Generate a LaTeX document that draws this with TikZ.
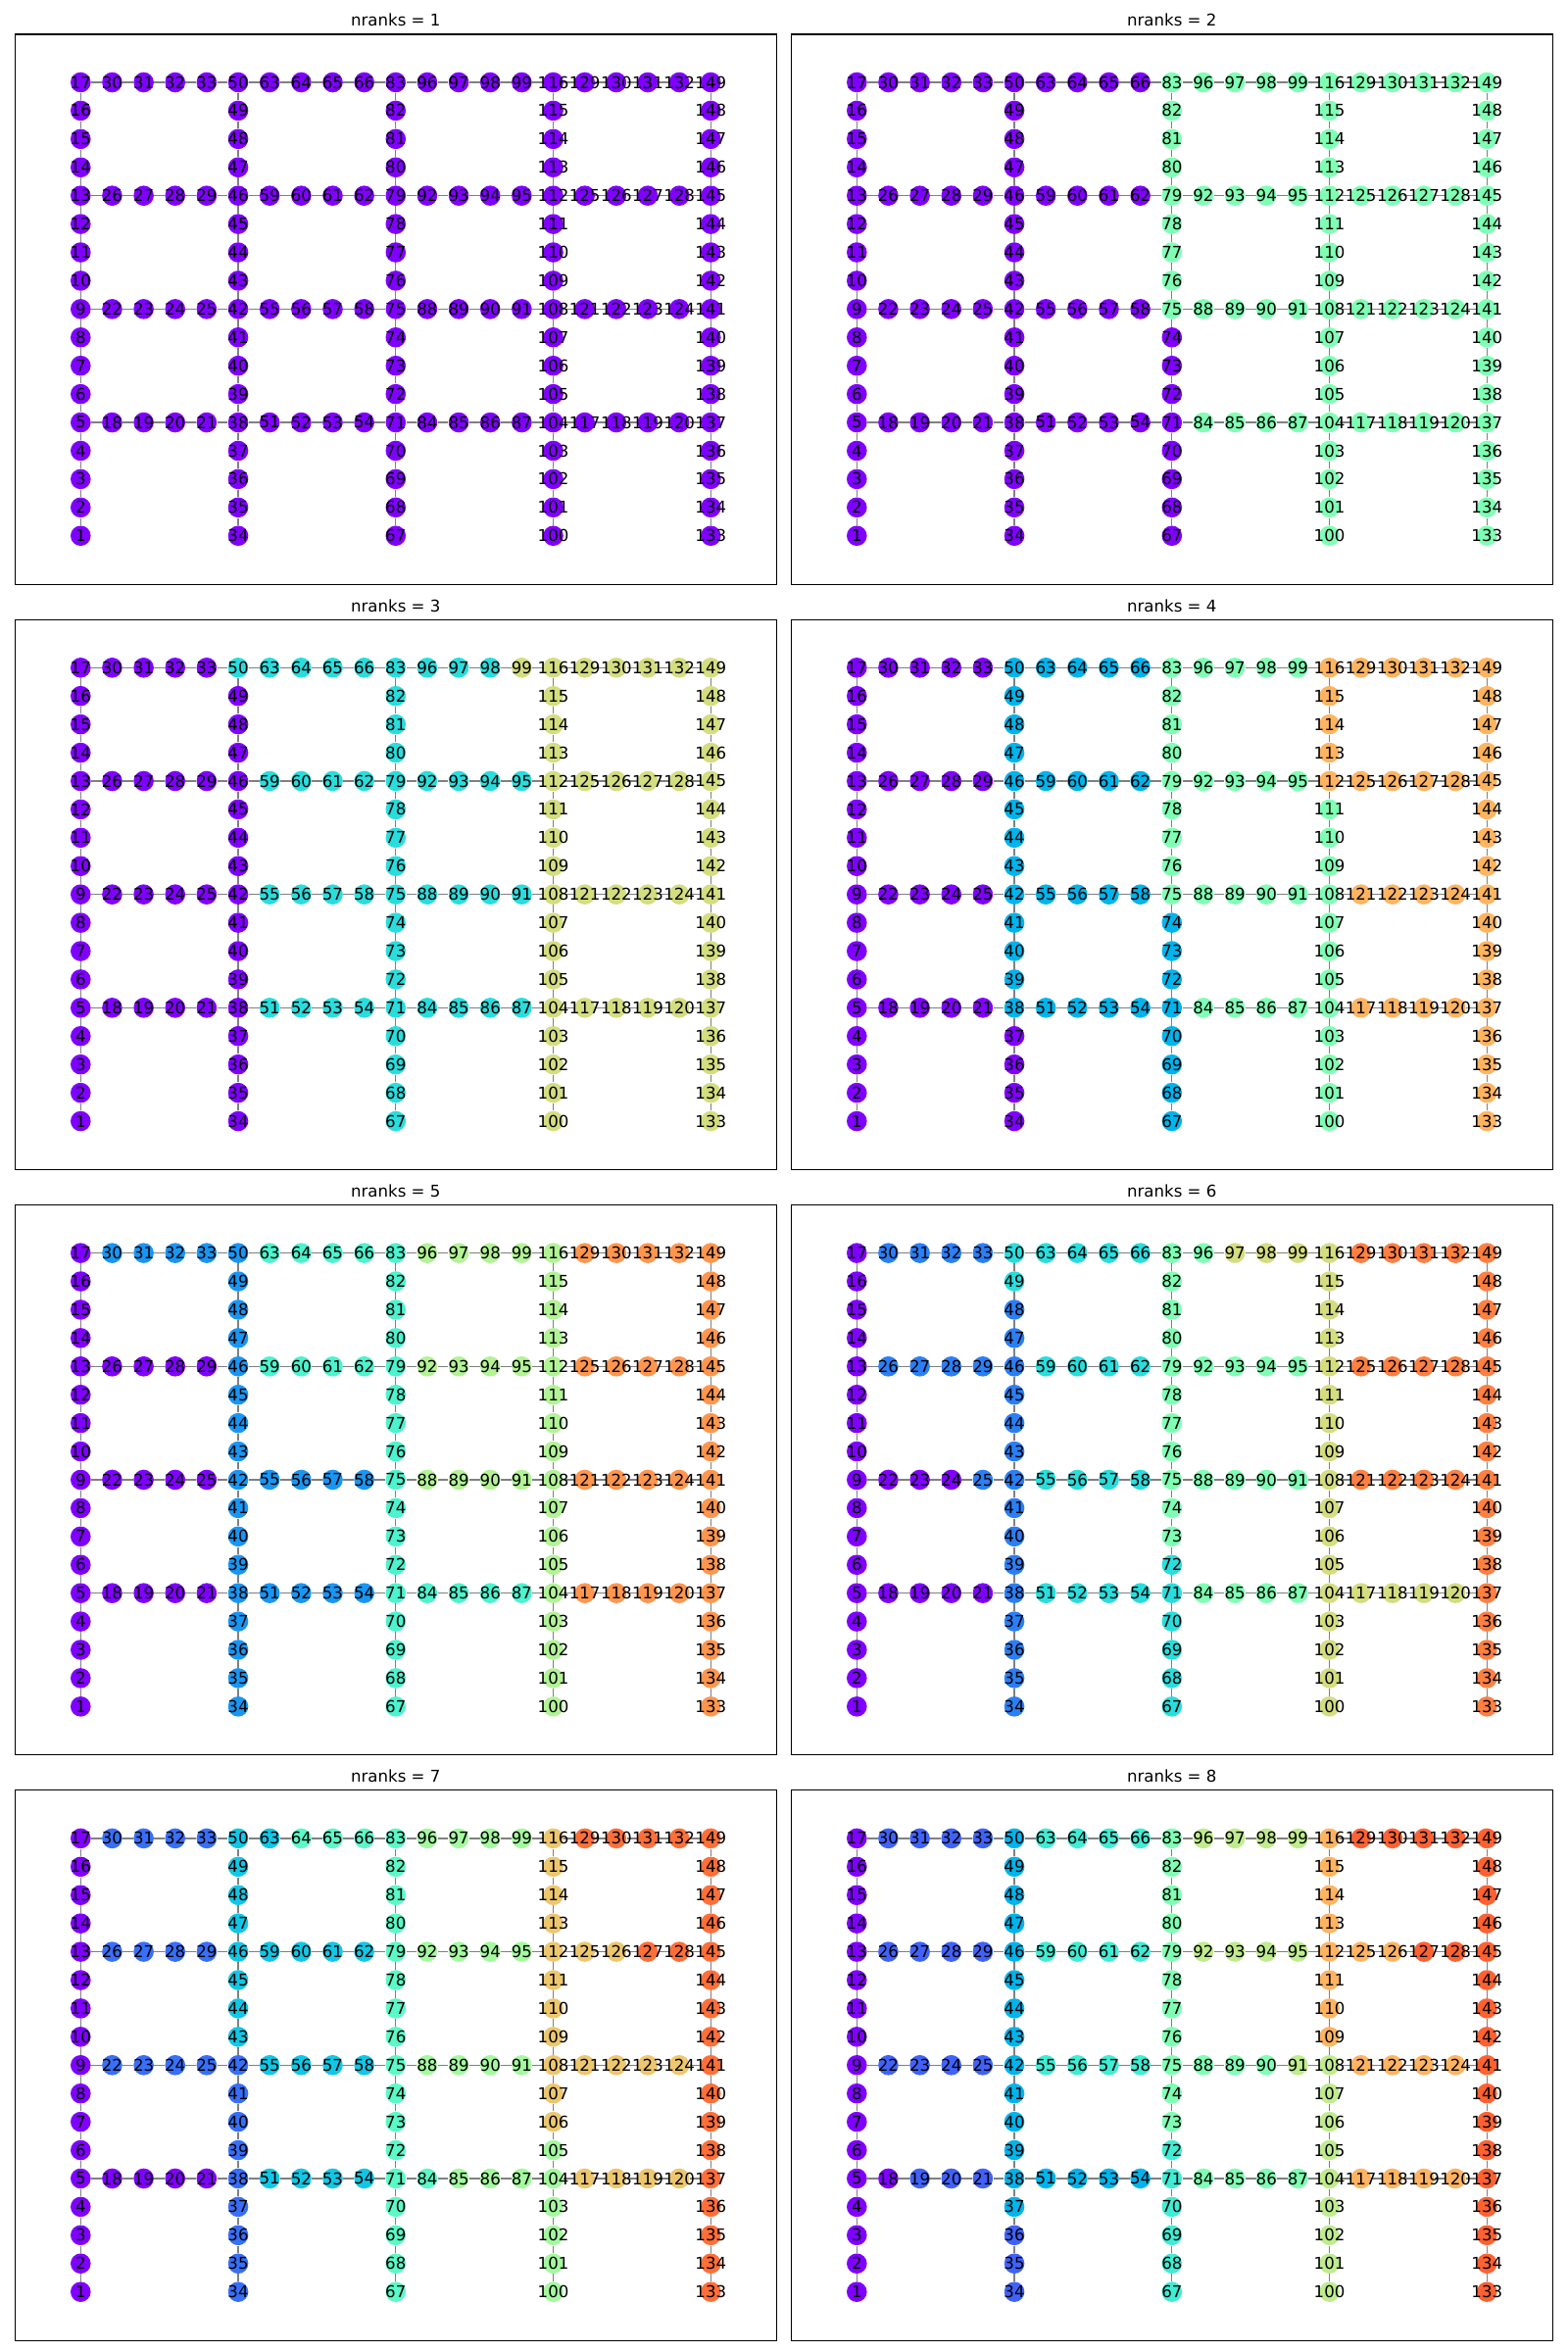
\documentclass[tikz,border=0pt]{standalone}
\usepackage{fontspec}
\setmainfont{DejaVu Sans}
\pgfdeclarelayer{background}
\pgfsetlayers{background,main}
\definecolor{edgegray}{RGB}{128,128,128}
\tikzset{
  gnode/.style={circle, minimum size=10.3pt, inner sep=0pt, draw=none},
  glabel/.style={font=\fontsize{8.3}{10}\selectfont, text=black, inner sep=0pt},
  gedge/.style={draw=edgegray, line width=0.65pt},
  panelframe/.style={draw=black, line width=0.56pt},
  ptitle/.style={font=\fontsize{8.3}{10}\selectfont, anchor=base}
}
\newcommand\drawgnode[5]{% #1 nranks, #2 id, #3 x, #4 y, #5 panel tag
  \pgfmathtruncatemacro\myBlk{floor(149/#1)}
  \pgfmathtruncatemacro\myRk{min(floor((#2-1)/\myBlk),#1-1)}
  \pgfmathsetmacro\myT{\myRk/#1}
  \pgfmathsetmacro\myR{min(abs(2*\myT-0.5),1)}
  \pgfmathsetmacro\myG{max(sin(180*\myT),0)}
  \pgfmathsetmacro\myB{max(cos(90*\myT),0)}
  \definecolor{ncol}{rgb}{\myR,\myG,\myB}
  \node[gnode, fill=ncol, label={[glabel]center:#2}] (p#5-#2) at (#3,#4) {};
}
\begin{document}
\begin{tikzpicture}[x=0.5pt,y=-0.5pt]
\useasboundingbox (0,0) rectangle (1600,2400);
\foreach \Nr in {1,...,8}{
  \pgfmathsetmacro\PL{15.3+792*mod(\Nr-1,2)}
  \pgfmathsetmacro\PT{35+597.3*floor((\Nr-1)/2)}
  \draw[panelframe] (\PL,\PT) rectangle ++(777,561.3);
  \node[ptitle] (title\Nr) at (\PL+388.5,\PT-8.3) {nranks = \Nr};
  % vertical columns
  \foreach \colI in {0,...,4}{
    \foreach \rw in {1,...,17}{
      \pgfmathtruncatemacro\nid{33*\colI+\rw}
      \pgfmathsetmacro\nx{\PL+67+32.15*5*\colI}
      \pgfmathsetmacro\ny{\PT+49+28.92*(17-\rw)}
      \drawgnode{\Nr}{\nid}{\nx}{\ny}{\Nr}
    }
  }
  % horizontal chains
  \foreach \colI in {0,...,3}{
    \foreach \jrow in {0,...,3}{
      \foreach \kk in {1,...,4}{
        \pgfmathtruncatemacro\nid{33*\colI+17+4*\jrow+\kk}
        \pgfmathsetmacro\nx{\PL+67+32.15*(5*\colI+\kk)}
        \pgfmathsetmacro\ny{\PT+49+28.92*(12-4*\jrow)}
        \drawgnode{\Nr}{\nid}{\nx}{\ny}{\Nr}
      }
    }
  }
  \begin{pgfonlayer}{background}
    \foreach \colI in {0,...,4}{
      \foreach \rw in {1,...,16}{
        \pgfmathtruncatemacro\eA{33*\colI+\rw}
        \pgfmathtruncatemacro\eB{\eA+1}
        \draw[gedge] (p\Nr-\eA) -- (p\Nr-\eB);
      }
    }
    \foreach \colI in {0,...,3}{
      \foreach \jrow in {0,...,3}{
        \pgfmathtruncatemacro\eA{33*\colI+5+4*\jrow}
        \pgfmathtruncatemacro\eB{33*\colI+18+4*\jrow}
        \pgfmathtruncatemacro\eC{\eB+1}
        \pgfmathtruncatemacro\eD{\eB+2}
        \pgfmathtruncatemacro\eE{\eB+3}
        \pgfmathtruncatemacro\eF{\eA+33}
        \draw[gedge] (p\Nr-\eA) -- (p\Nr-\eB) -- (p\Nr-\eC) -- (p\Nr-\eD) -- (p\Nr-\eE) -- (p\Nr-\eF);
      }
    }
  \end{pgfonlayer}
}
\end{tikzpicture}
\end{document}
